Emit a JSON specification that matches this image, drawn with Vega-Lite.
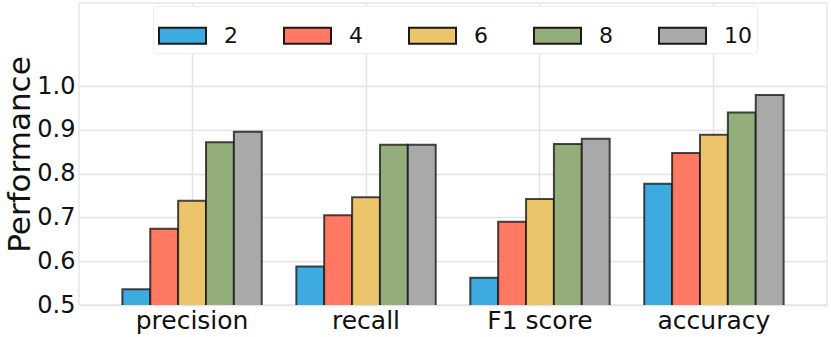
{
  "$schema": "https://vega.github.io/schema/vega-lite/v6.json",
  "width": 748,
  "height": 302,
  "autosize": "none",
  "padding": {"left": 79, "top": 3, "right": 4, "bottom": 32},
  "background": "white",
  "config": {
    "font": "DejaVu Sans",
    "view": {"stroke": "#e8e8e8", "strokeWidth": 1.5}
  },
  "data": {
    "values": [
      {"metric": "precision", "k": 2, "value": 0.536},
      {"metric": "precision", "k": 4, "value": 0.674},
      {"metric": "precision", "k": 6, "value": 0.738},
      {"metric": "precision", "k": 8, "value": 0.872},
      {"metric": "precision", "k": 10, "value": 0.896},
      {"metric": "recall", "k": 2, "value": 0.588},
      {"metric": "recall", "k": 4, "value": 0.705},
      {"metric": "recall", "k": 6, "value": 0.746},
      {"metric": "recall", "k": 8, "value": 0.866},
      {"metric": "recall", "k": 10, "value": 0.866},
      {"metric": "F1 score", "k": 2, "value": 0.562},
      {"metric": "F1 score", "k": 4, "value": 0.690},
      {"metric": "F1 score", "k": 6, "value": 0.742},
      {"metric": "F1 score", "k": 8, "value": 0.868},
      {"metric": "F1 score", "k": 10, "value": 0.880},
      {"metric": "accuracy", "k": 2, "value": 0.777},
      {"metric": "accuracy", "k": 4, "value": 0.847},
      {"metric": "accuracy", "k": 6, "value": 0.889},
      {"metric": "accuracy", "k": 8, "value": 0.940},
      {"metric": "accuracy", "k": 10, "value": 0.980}
    ]
  },
  "mark": {"type": "bar", "stroke": "#1a1a1a", "strokeOpacity": 0.8, "strokeWidth": 2, "clip": true},
  "encoding": {
    "x": {
      "field": "metric",
      "type": "nominal",
      "sort": ["precision", "recall", "F1 score", "accuracy"],
      "scale": {"paddingInner": 0, "paddingOuter": 0.15},
      "axis": {
        "title": null,
        "labelAngle": 0,
        "labelFontSize": 25,
        "labelColor": "#111",
        "labelPadding": 3,
        "ticks": false,
        "domain": false,
        "grid": true,
        "bandPosition": 0.5,
        "gridColor": "#e3e3e3",
        "gridWidth": 1.5
      }
    },
    "xOffset": {
      "field": "k",
      "type": "ordinal",
      "scale": {"paddingInner": 0, "paddingOuter": 0.62}
    },
    "y": {
      "field": "value",
      "type": "quantitative",
      "scale": {"domain": [0.5, 1.19], "zero": false, "nice": false},
      "axis": {
        "title": "Performance",
        "titleFontSize": 31,
        "titleFontWeight": "normal",
        "titleColor": "#111",
        "titlePadding": 0,
        "values": [0.5, 0.6, 0.7, 0.8, 0.9, 1.0],
        "format": ".1f",
        "labelFontSize": 24,
        "labelColor": "#111",
        "labelPadding": 4,
        "ticks": false,
        "domain": false,
        "gridColor": "#e3e3e3",
        "gridWidth": 1.5
      }
    },
    "fill": {
      "field": "k",
      "type": "ordinal",
      "scale": {"range": ["#3DAAE0", "#FF7862", "#EBC46C", "#93AD7B", "#A9A9A9"]},
      "legend": {
        "title": null,
        "orient": "none",
        "legendX": 74,
        "legendY": 3,
        "direction": "horizontal",
        "columns": 5,
        "gridAlign": "all",
        "columnPadding": 28,
        "symbolType": "M-1,-0.34L1,-0.34L1,0.34L-1,0.34Z",
        "symbolSize": 2209,
        "symbolStrokeColor": "#1a1a1a",
        "symbolStrokeWidth": 2,
        "symbolOpacity": 1,
        "labelFontSize": 22,
        "labelColor": "#111",
        "labelOffset": 17,
        "padding": 5,
        "strokeColor": "#ebebeb",
        "fillColor": "white",
        "cornerRadius": 4
      }
    }
  }
}
